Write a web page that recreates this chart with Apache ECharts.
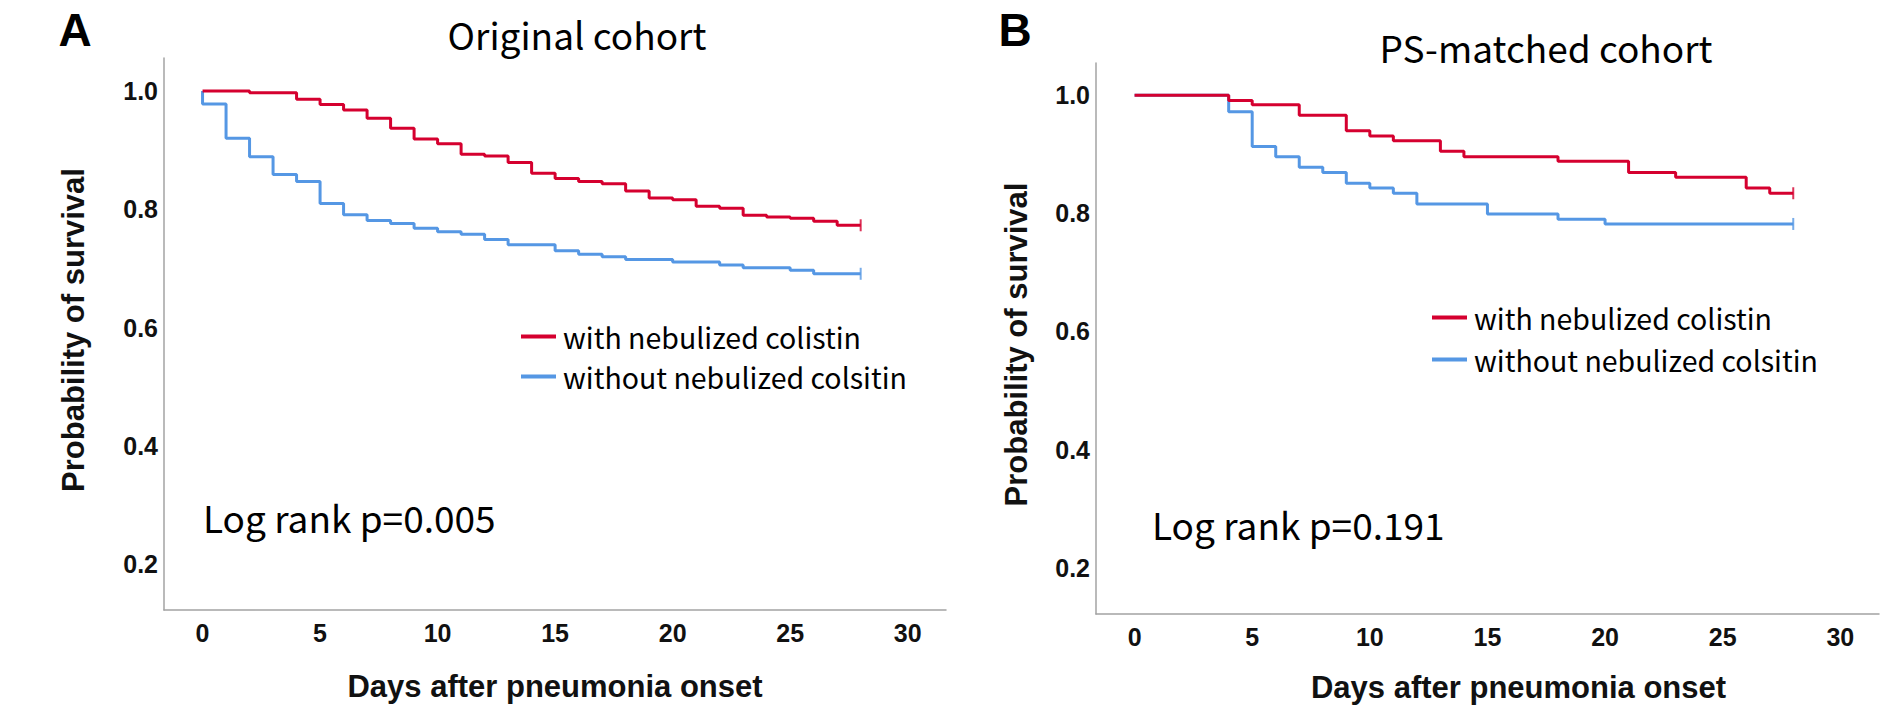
<!DOCTYPE html>
<html><head><meta charset="utf-8">
<script src="https://cdn.jsdelivr.net/npm/echarts@6/dist/echarts.min.js"></script>
<style>html,body{margin:0;padding:0;background:#fff}#c{width:1882px;height:708px}</style>
</head><body><div id="c"></div>
<script>
// ---- data ----
const seriesNames = ['with nebulized colistin', 'without nebulized colsitin'];
const panelTitles = ['Original cohort', 'PS-matched cohort'];
const panelLetters = ['A', 'B'];
const logRankTexts = ['Log rank p=0.005', 'Log rank p=0.191'];
const xAxisTitle = 'Days after pneumonia onset';
const yAxisTitle = 'Probability of survival';
const xTicks = [0, 5, 10, 15, 20, 25, 30];
const yTicks = [0.2, 0.4, 0.6, 0.8, 1.0];

// Original cohort, with nebulized colistin: [day, survival]
const origWith = [[0,1],[2,0.997],[4,0.986],[5,0.977],[6,0.968],[7,0.954],[8,0.937],[9,0.919],[10,0.911],[11,0.893],[12,0.890],[13,0.879],[14,0.861],[15,0.852],[16,0.847],[17,0.843],[18,0.831],[19,0.819],[20,0.816],[21,0.805],[22,0.802],[23,0.790],[24,0.787],[25,0.785],[26,0.780],[27,0.773],[28,0.773]];
// Original cohort, without nebulized colistin
const origWithout = [[0,1],[0,0.978],[1,0.920],[2,0.889],[3,0.859],[4,0.847],[5,0.810],[6,0.791],[7,0.781],[8,0.776],[9,0.768],[10,0.762],[11,0.758],[12,0.749],[13,0.740],[15,0.730],[16,0.724],[17,0.720],[18,0.715],[20,0.711],[22,0.706],[23,0.701],[25,0.697],[26,0.691],[28,0.691]];
// PS-matched cohort, with nebulized colistin
const psWith = [[0,1],[4,0.991],[5,0.984],[7,0.966],[9,0.940],[10,0.931],[11,0.923],[13,0.905],[14,0.896],[18,0.888],[21,0.869],[23,0.861],[26,0.843],[27,0.834],[28,0.834]];
// PS-matched cohort, without nebulized colistin
const psWithout = [[0,1],[4,0.972],[5,0.913],[6,0.896],[7,0.878],[8,0.869],[9,0.851],[10,0.843],[11,0.834],[12,0.816],[15,0.799],[18,0.790],[20,0.782],[28,0.782]];

const RED = '#d5002f';
const BLUE = '#5597e4';
const AXIS = '#a3a3a3';
const SANS = "'Noto Sans CJK TC', 'Open Sans', sans-serif";
const ARIAL = "'Liberation Sans', Arial, sans-serif";

const grids = [
  { left: 164, top: 58, width: 782, height: 552 },
  { left: 1096, top: 63, width: 783, height: 552 }
];
const yRanges = [[0.1226, 1.0558], [0.1214, 1.0546]];
const xRanges = [[-1.64, 31.63], [-1.64, 31.645]];

function xAxis(i, gap, pad) {
  return {
    type: 'value', gridIndex: i, min: xRanges[i][0], max: xRanges[i][1],
    splitLine: { show: false }, axisTick: { show: false },
    axisLine: { show: true, onZero: false, lineStyle: { color: AXIS, width: 1.5 } },
    axisLabel: { customValues: xTicks, margin: 10, color: '#111', fontSize: 25, fontWeight: 'bold', fontFamily: ARIAL },
    name: xAxisTitle, nameLocation: 'middle', nameGap: gap,
    nameTextStyle: { fontSize: 31, fontWeight: 'bold', fontFamily: ARIAL, color: '#111', padding: pad }
  };
}
function yAxis(i, gap, pad) {
  return {
    type: 'value', gridIndex: i, min: yRanges[i][0], max: yRanges[i][1],
    splitLine: { show: false }, axisTick: { show: false },
    axisLine: { show: true, onZero: false, lineStyle: { color: AXIS, width: 1.5 } },
    axisLabel: { customValues: yTicks, margin: 6, color: '#111', fontSize: 25, fontWeight: 'bold', fontFamily: ARIAL,
      formatter: v => v.toFixed(1), padding: [7, 0, 0, 0] },
    name: yAxisTitle, nameLocation: 'middle', nameGap: gap, nameRotate: 90,
    nameTextStyle: { fontSize: 31, fontWeight: 'bold', fontFamily: ARIAL, color: '#111', padding: pad }
  };
}

function km(name, data, color, i) {
  return { name, type: 'line', step: 'end', data, xAxisIndex: i, yAxisIndex: i,
    showSymbol: false, symbol: 'none', lineStyle: { color, width: 3 }, itemStyle: { color }, animation: false };
}
function censor(data, color, i) {
  return { type: 'scatter', xAxisIndex: i, yAxisIndex: i, data: [data[data.length - 1]],
    symbol: 'rect', symbolSize: [2, 12], itemStyle: { color }, silent: true, animation: false };
}

function txt(text, x, y, size, opts) {
  opts = opts || {};
  return { type: 'text', x, y, rotation: opts.rot || 0,
    style: { text, fontSize: size, lineHeight: Math.round(size * 1.05), fontFamily: opts.font || SANS,
      fontWeight: opts.weight || 'normal', fill: '#000', align: opts.align || 'left', verticalAlign: 'middle' } };
}

const option = {
  backgroundColor: '#fff',
  animation: false,
  grid: grids,
  xAxis: [xAxis(0, 61, [0, 0, 0, 0]), xAxis(1, 58, [0, 0, 0, 62])],
  yAxis: [yAxis(0, 75, [0, 0, 0, 8]), yAxis(1, 64, [0, 12, 0, 0])],
  legend: [
    { data: seriesNames, orient: 'vertical', left: 516, top: 317, icon: 'rect', itemWidth: 35, itemHeight: 4,
      itemGap: 11, selectedMode: false,
      textStyle: { fontSize: 28.5, fontFamily: SANS, color: '#000', lineHeight: 29, padding: [0, 0, 0, 2] } },
    { data: seriesNames, orient: 'vertical', left: 1427, top: 298, icon: 'rect', itemWidth: 35, itemHeight: 4,
      itemGap: 13, selectedMode: false,
      textStyle: { fontSize: 28.5, fontFamily: SANS, color: '#000', lineHeight: 29, padding: [0, 0, 0, 2] } }
  ],
  graphic: [
    txt(panelLetters[0], 75, 30, 46, { weight: 'bold', align: 'center', font: ARIAL }),
    txt(panelLetters[1], 1015, 30, 46, { weight: 'bold', align: 'center', font: ARIAL }),
    txt(panelTitles[0], 577, 34, 37, { align: 'center' }),
    txt(panelTitles[1], 1546, 47, 37, { align: 'center' }),
    txt(logRankTexts[0], 203, 517, 37),
    txt(logRankTexts[1], 1152, 524, 37)
  ],
  series: [
    km(seriesNames[1], origWithout, BLUE, 0),
    km(seriesNames[0], origWith, RED, 0),
    km(seriesNames[1], psWithout, BLUE, 1),
    km(seriesNames[0], psWith, RED, 1),
    censor(origWithout, BLUE, 0), censor(origWith, RED, 0),
    censor(psWithout, BLUE, 1), censor(psWith, RED, 1)
  ]
};
const chart = echarts.init(document.getElementById('c'), null, { renderer: 'svg', width: 1882, height: 708 });
chart.setOption(option);
</script></body></html>
